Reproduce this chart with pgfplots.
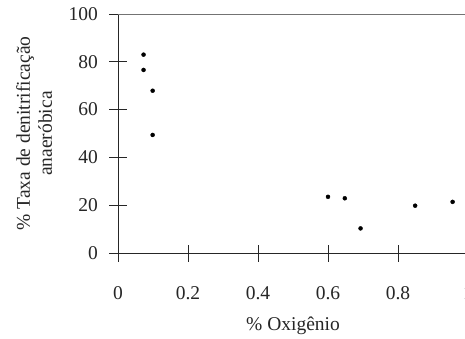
\documentclass[border=0pt]{standalone}
\usepackage{fontspec}
\setmainfont{Liberation Serif}
\usepackage{pgfplots}
\pgfplotsset{compat=1.18}
\begin{document}
\fontsize{19.5}{22}\selectfont
\begin{tikzpicture}
\useasboundingbox (0,0) rectangle (465pt,-338pt);
\clip (0,0) rectangle (465pt,-338pt);
\begin{axis}[
  at={(118pt,-253pt)}, anchor=south west,
  scale only axis, width=350pt, height=239pt,
  xmin=0, xmax=1, ymin=0, ymax=100,
  axis lines*=left,
  clip=false,
  axis line style={black!85, line width=0.8pt},
  xtick={0,0.2,0.4,0.6,0.8,1},
  ytick={0,20,40,60,80,100},
  tick align=center,
  major tick length=17pt,
  tick style={black!85, line width=0.8pt},
  /pgf/number format/assume math mode=true,
  ticklabel style={font=\fontsize{19.5}{22}\selectfont, text=black!85},
  xticklabel style={yshift=-18pt},
  yticklabel style={xshift=-5pt},
  xlabel={\% Oxigênio},
  ylabel={\% Taxa de denitrificação\\anaeróbica},
  x label style={at={(axis description cs:0.5,0)}, anchor=base, yshift=-77pt, font=\fontsize{19.5}{22}\selectfont, text=black!85},
  y label style={at={(axis description cs:0,0.5)}, anchor=center, rotate=0, yshift=84pt, align=center, font=\fontsize{19.5}{22}\selectfont, text=black!85},
]
\addplot[only marks, mark=*, mark size=2pt, black] coordinates {
  (0.073,83.0) (0.073,76.6) (0.099,67.9) (0.099,49.4)
  (0.600,23.5) (0.648,22.9) (0.693,10.3) (0.849,19.8) (0.956,21.4)
};
\draw[black!55, line width=0.8pt] (axis cs:0,100) -- (axis cs:1,100);
\end{axis}
\end{tikzpicture}
\end{document}
